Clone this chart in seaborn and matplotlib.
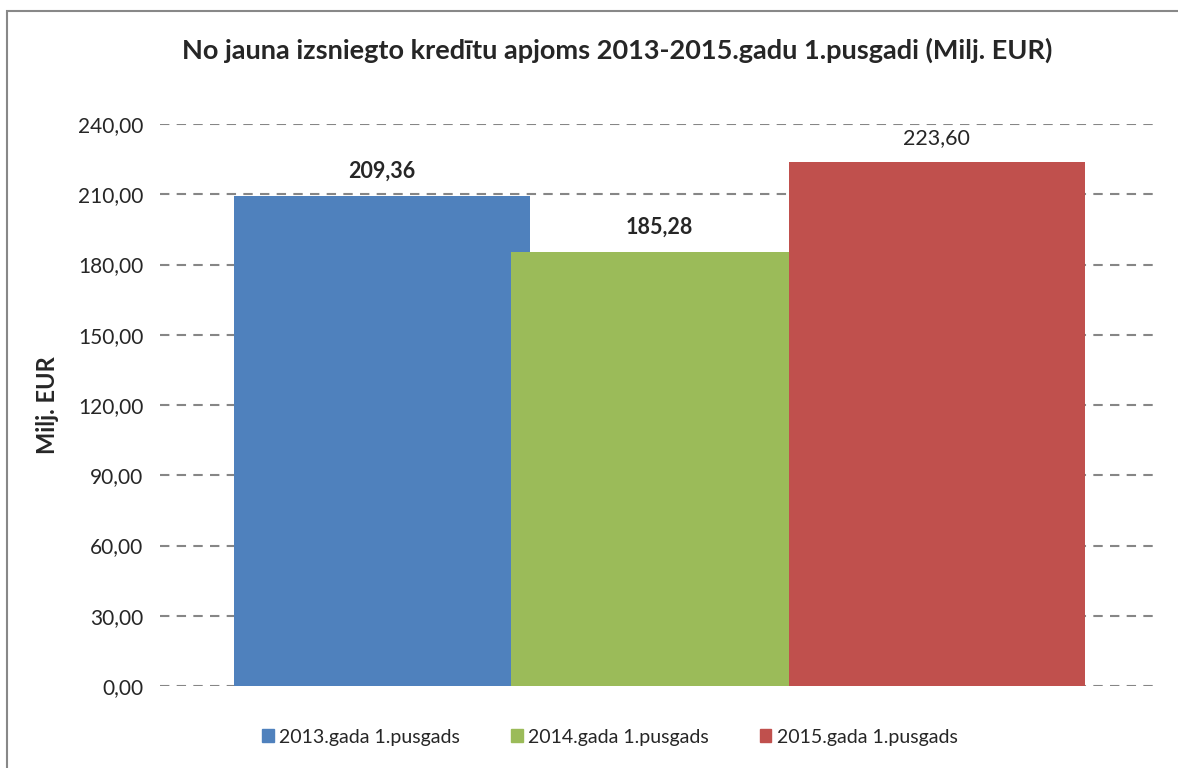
import matplotlib
matplotlib.use('Agg')

import matplotlib.pyplot as plt
import matplotlib.patches as mpatches
import pandas as pd
import seaborn as sns

# dati no attēla
periods = ["2013.gada 1.pusgads", "2014.gada 1.pusgads", "2015.gada 1.pusgads"]
values = [209.36, 185.28, 223.60]
label_bold = [True, True, False]
colors = ["#4F81BD", "#9BBB59", "#C0504D"]
y_ticks = [0, 30, 60, 90, 120, 150, 180, 210, 240]

df = pd.DataFrame({"periods": periods, "values": values})

sns.set_style("white")
plt.rcParams['font.family'] = ['Lato', 'DejaVu Sans']

fig = plt.figure(figsize=(11.78, 7.68), dpi=100)
ax = fig.add_axes([160 / 1178, 1 - 686 / 768, 1000 / 1178, 562 / 768])

sns.barplot(data=df, x="periods", y="values", hue="periods", palette=colors,
            width=1.0667, saturation=1, legend=False, ax=ax)

for i, p in enumerate(ax.patches):
    p.set_zorder(2 + i)
    p.set_edgecolor("none")

ax.set_xlim(-0.8, 2.804)
ax.set_ylim(0, 240)
ax.set_yticks(y_ticks)
ax.set_yticklabels([f"{t:.2f}".replace(".", ",") for t in y_ticks], fontsize=15)
ax.set_xticks([])
ax.set_xlabel("")
ax.set_ylabel("Milj. EUR", fontsize=17, fontweight="bold", labelpad=14)
ax.tick_params(axis="y", length=0, pad=12)
for s in ax.spines.values():
    s.set_visible(False)
ax.yaxis.grid(True, linestyle=(0, (4.5, 3.5)), color="#868686", linewidth=1.5)
ax.set_axisbelow(True)

for i, v in enumerate(values):
    ax.text(i, v + 6, f"{v:.2f}".replace(".", ","), ha="center", va="bottom",
            fontsize=15.5, fontweight="bold" if label_bold[i] else "normal", zorder=10)

fig.suptitle("No jauna izsniegto kredītu apjoms 2013-2015.gadu 1.pusgadi (Milj. EUR)",
             x=617 / 1178, y=1 - 50 / 768, va="center", fontsize=19.5, fontweight="bold")

handles = [mpatches.Patch(color=c, label=l) for c, l in zip(colors, periods)]
fig.legend(handles=handles, loc="center", bbox_to_anchor=(610 / 1178, 1 - 737 / 768),
           ncol=3, frameon=False, fontsize=14, handlelength=0.6, handleheight=0.6,
           handletextpad=0.3, columnspacing=2.6)

border = mpatches.Rectangle((7 / 1178, -0.1), 1.2, 1 - 11 / 768 + 0.1,
                            transform=fig.transFigure, fill=False,
                            edgecolor="#888888", linewidth=1.5)
fig.patches.append(border)

plt.savefig("out.png", dpi=100)
